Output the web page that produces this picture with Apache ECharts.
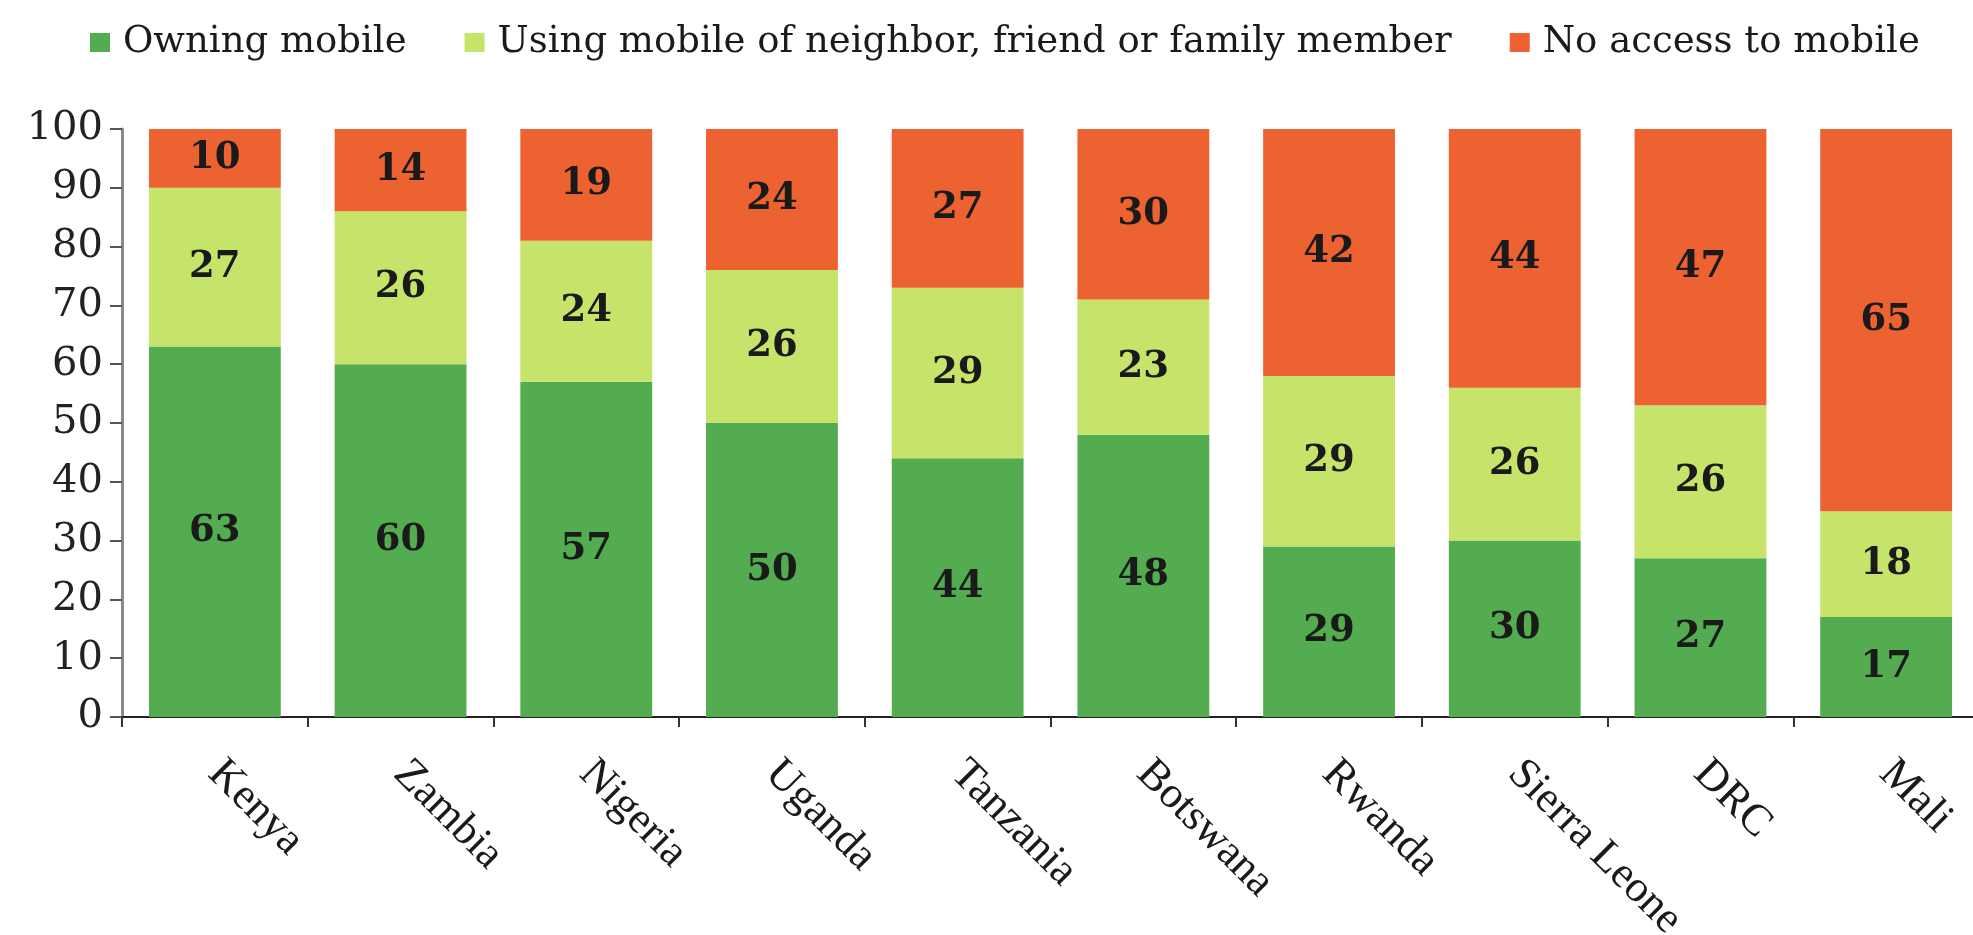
<!DOCTYPE html>
<html>
<head>
<meta charset="utf-8">
<title>Mobile phone access</title>
<script src="https://cdn.jsdelivr.net/npm/echarts@6/dist/echarts.min.js"></script>
<style>
  html, body { margin: 0; padding: 0; background: #ffffff; }
  #chart { width: 1973px; height: 935px; }
</style>
</head>
<body>
<div id="chart"></div>
<script>
// Countries along the x axis
const countries = ['Kenya', 'Zambia', 'Nigeria', 'Uganda', 'Tanzania', 'Botswana', 'Rwanda', 'Sierra Leone', 'DRC', 'Mali'];

// Share of adults (%) by kind of mobile access
const owningMobile = [63, 60, 57, 50, 44, 48, 29, 30, 27, 17];
const usingOthersMobile = [27, 26, 24, 26, 29, 23, 29, 26, 26, 18];
const noAccess = [10, 14, 19, 24, 27, 30, 42, 44, 47, 65];

const seriesNames = ['Owning mobile', 'Using mobile of neighbor, friend or family member', 'No access to mobile'];
const seriesColors = ['#53ad50', '#c6e36a', '#ec6231'];
const seriesValues = [owningMobile, usingOthersMobile, noAccess];

const chart = echarts.init(document.getElementById('chart'));

const series = seriesNames.map((name, i) => ({
  name: name,
  type: 'bar',
  stack: 'access',
  barCategoryGap: '29%',
  data: seriesValues[i],
  itemStyle: { color: seriesColors[i] },
  label: {
    show: true,
    position: 'inside',
    color: '#1a1a1a',
    fontFamily: 'DejaVu Serif',
    fontWeight: 'bold',
    fontSize: 37
  }
}));

chart.setOption({
  animation: false,
  backgroundColor: '#ffffff',
  legend: {
    left: 85,
    top: 19,
    itemWidth: 20,
    itemHeight: 19,
    itemGap: 58,
    icon: 'rect',
    textStyle: {
      fontFamily: 'DejaVu Serif',
      fontSize: 37,
      color: '#1a1a1a',
      padding: [0, 0, 0, 8]
    },
    data: seriesNames
  },
  grid: {
    left: 122,
    top: 129,
    width: 1857,
    height: 588,
    containLabel: false,
    outerBoundsMode: 'none'
  },
  xAxis: {
    type: 'category',
    data: countries,
    axisLine: { lineStyle: { color: '#222222', width: 2 } },
    axisTick: { show: true, length: 10, lineStyle: { color: '#333333', width: 2 } },
    axisLabel: {
      rotate: -45,
      margin: 50,
      fontFamily: 'Liberation Serif',
      fontSize: 44,
      color: '#1a1a1a'
    }
  },
  yAxis: {
    type: 'value',
    min: 0,
    max: 100,
    interval: 10,
    splitLine: { show: false },
    axisLine: { show: true, lineStyle: { color: '#8a8a8a', width: 3 } },
    axisTick: { show: true, length: 12, lineStyle: { color: '#555555', width: 2 } },
    axisLabel: {
      margin: 19,
      fontFamily: 'DejaVu Serif',
      fontSize: 40,
      color: '#222222'
    }
  },
  series: series
});
</script>
</body>
</html>
